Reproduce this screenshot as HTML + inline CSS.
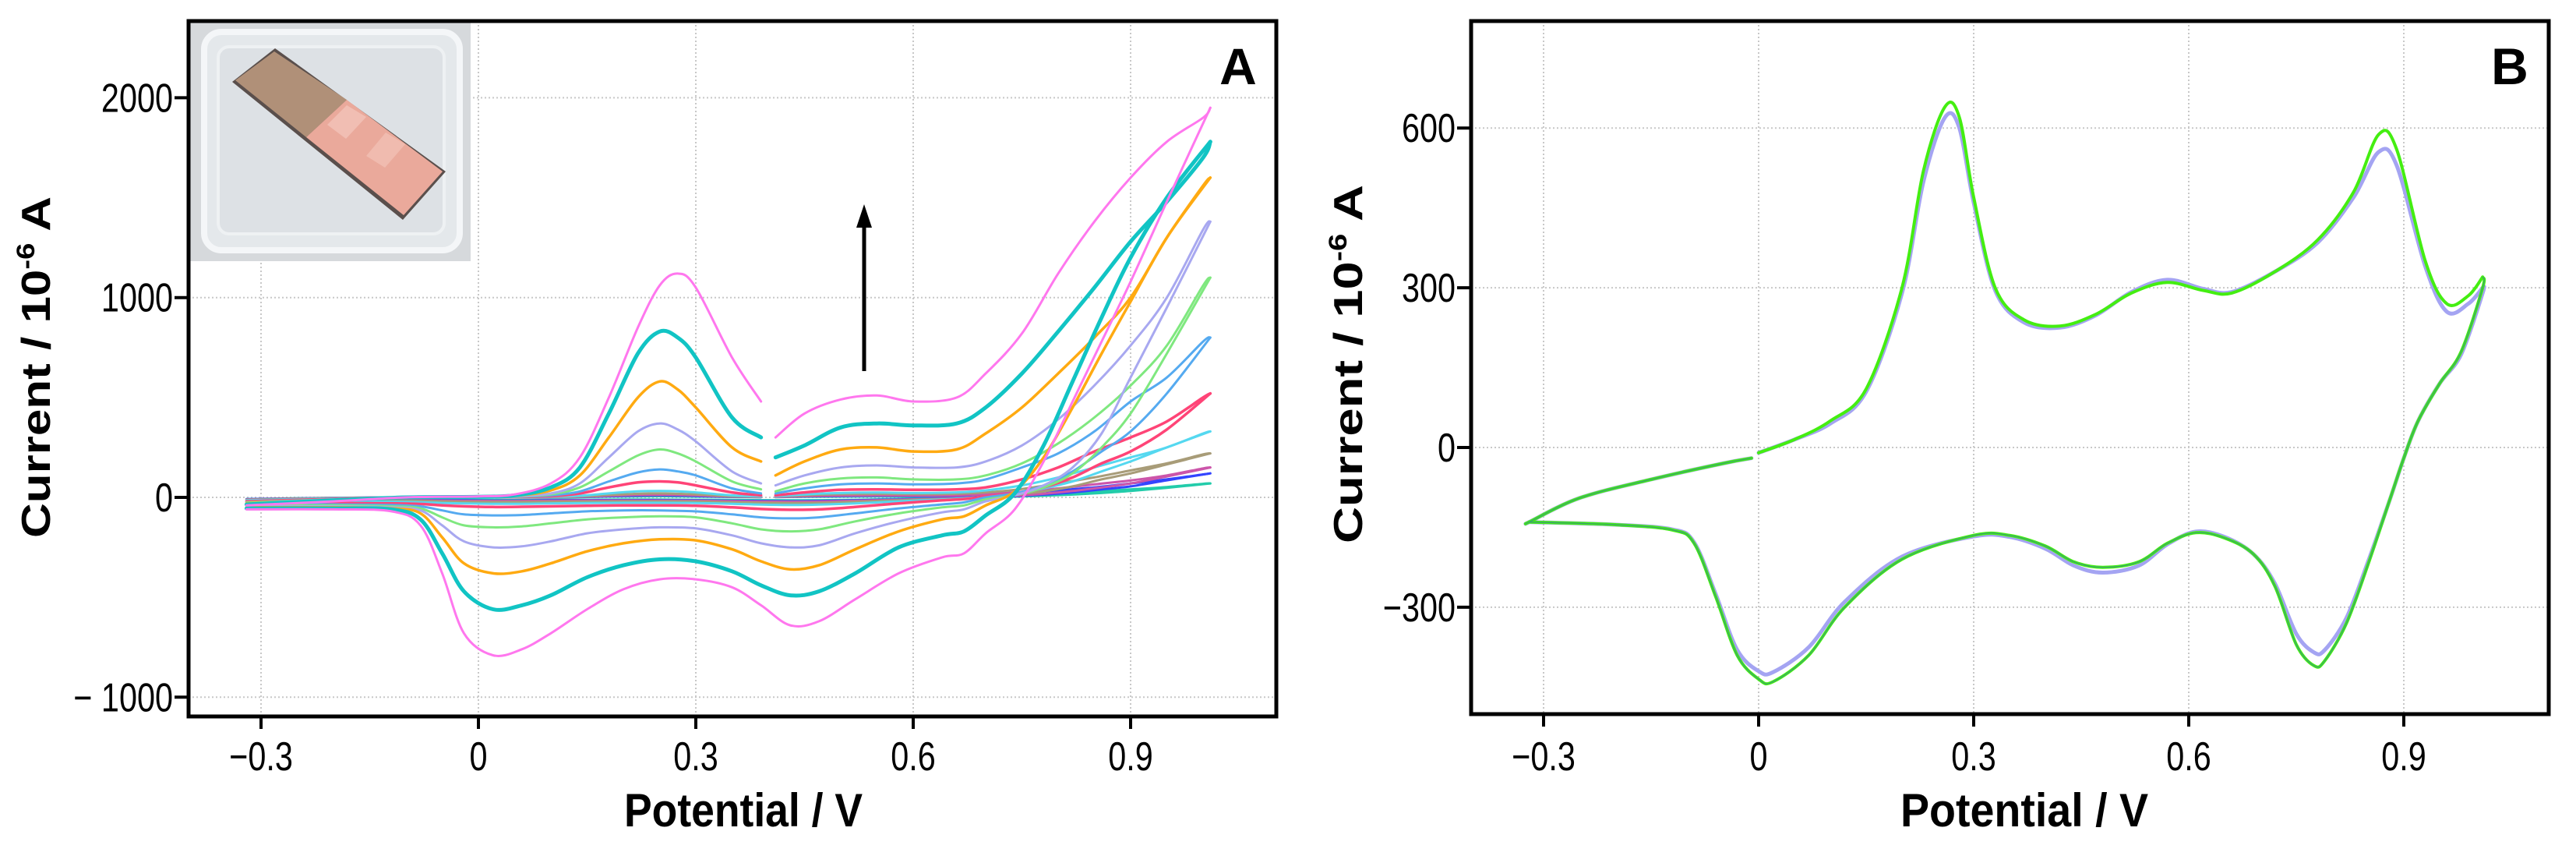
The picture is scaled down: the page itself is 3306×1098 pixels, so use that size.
<!DOCTYPE html>
<html><head><meta charset="utf-8"><style>
html,body{margin:0;padding:0;background:#fff;}
svg{display:block;}
text{font-family:"Liberation Sans",Arial,sans-serif;}
</style></head><body>
<svg id="fig" width="3306" height="1098" viewBox="0 0 3306 1098" xmlns="http://www.w3.org/2000/svg">
<rect x="0" y="0" width="3306" height="1098" fill="#fff"/>
<g id="panelA"></g>
<g id="panelB"></g>
</svg>
<script>
// ---------- Panel A data ----------
const aTicksX = [-0.3, 0, 0.3, 0.6, 0.9];
const aTickLabelsX = ["\u22120.3", "0", "0.3", "0.6", "0.9"];
const aTicksY = [2000, 1000, 0, -1000];
const aTickLabelsY = ["2000", "1000", "0", "\u2212 1000"];
const aPotential = [0.39,0.35,0.3,0.275,0.25,0.22,0.18,0.14,0.1,0.05,0,-0.1,-0.2,-0.32,
 -0.32,-0.2,-0.12,-0.08,-0.05,-0.02,0.02,0.06,0.1,0.15,0.2,0.25,0.3,0.35,0.39,0.43,0.47,0.52,0.58,0.64,0.67,0.7,0.74,0.78,0.82,0.86,0.9,0.95,1.01,
 1.0,0.95,0.9,0.85,0.8,0.75,0.7,0.66,0.6,0.55,0.5,0.45,0.41];
const aPink = [480,700,1050,1120,1060,850,500,200,70,15,5,0,-20,-40,
 -60,-60,-70,-140,-380,-680,-790,-760,-680,-560,-460,-410,-410,-450,-540,-640,-620,-510,-380,-300,-280,-180,-60,180,480,780,1080,1480,1950,
 1900,1780,1600,1380,1120,820,620,500,480,510,490,420,300];
const aCyan = [300,400,700,800,830,720,420,150,50,10,3,0,-15,-35,
 -55,-55,-60,-110,-280,-470,-560,-540,-490,-400,-340,-310,-320,-370,-440,-490,-470,-380,-250,-190,-170,-90,20,260,580,900,1200,1500,1780,
 1700,1480,1280,1050,830,620,450,370,360,370,350,260,200];
const aOrange = [180,250,450,540,580,500,300,110,35,8,2,0,-15,-30,
 -50,-50,-55,-80,-200,-330,-380,-370,-330,-270,-230,-210,-215,-260,-320,-360,-340,-260,-170,-110,-95,-40,30,200,450,720,980,1300,1600,
 1560,1300,1000,800,620,450,320,240,230,250,240,180,110];
const aLavender = [70,130,280,340,370,330,200,70,20,5,1,0,-10,-30,
 -45,-45,-50,-65,-140,-220,-250,-245,-220,-180,-160,-150,-155,-190,-230,-250,-240,-180,-120,-75,-60,-20,10,60,150,320,600,950,1380,
 1340,1000,760,560,390,260,180,150,150,160,150,110,60];
const aGreen = [40,80,180,220,240,210,130,50,15,4,1,0,-10,-25,
 -40,-40,-45,-55,-100,-140,-150,-145,-130,-110,-100,-95,-100,-130,-160,-170,-160,-120,-80,-50,-40,-10,10,50,120,250,420,720,1100,
 1060,760,560,400,270,170,110,90,90,100,95,70,30];
const aLightBlue = [20,45,110,130,140,125,80,30,10,3,1,0,-10,-25,
 -35,-35,-38,-45,-65,-85,-90,-88,-80,-70,-65,-65,-70,-85,-100,-105,-100,-80,-55,-35,-25,0,20,60,130,230,330,520,800,
 780,600,480,330,220,150,90,70,65,70,65,45,20];
const aRed = [10,25,60,75,80,75,50,20,6,2,1,0,-8,-20,
 -28,-28,-30,-33,-40,-45,-48,-47,-45,-42,-40,-40,-42,-50,-58,-62,-60,-48,-30,-15,-8,5,20,50,100,170,230,340,520,
 500,380,300,230,150,90,50,40,38,40,38,25,10];
const aSky = [5,10,25,30,32,30,20,8,3,1,0,0,-5,-15,
 -20,-20,-22,-24,-28,-30,-32,-32,-30,-28,-27,-27,-28,-32,-36,-38,-36,-30,-20,-10,-5,5,20,45,80,130,180,250,330,
 320,250,200,150,100,60,35,25,22,24,22,15,5];
const aTan = [3,6,15,18,20,18,12,5,2,1,0,0,-4,-12,
 -16,-16,-17,-18,-20,-22,-23,-23,-22,-21,-20,-20,-21,-24,-27,-28,-27,-22,-15,-8,-4,3,15,30,55,90,120,165,220,
 215,170,135,100,70,42,25,18,16,17,16,11,4];
const aPurple = [2,4,10,12,13,12,8,3,1,0,0,0,-3,-10,
 -13,-13,-14,-15,-16,-17,-18,-18,-17,-16,-16,-16,-17,-19,-21,-22,-21,-17,-12,-6,-3,2,8,18,32,50,70,105,150,
 145,110,85,65,45,28,16,10,9,10,9,6,2];
const aBlue = [1,3,7,9,10,9,6,2,1,0,0,0,-3,-9,
 -12,-12,-12,-13,-14,-15,-16,-16,-15,-14,-14,-14,-15,-17,-18,-19,-18,-15,-10,-5,-2,2,6,14,25,40,55,85,120,
 115,90,70,50,35,22,12,8,7,8,7,5,2];
const aTeal = [1,2,4,5,6,5,4,1,0,0,0,0,-2,-8,
 -10,-10,-10,-11,-12,-12,-13,-13,-12,-12,-11,-11,-12,-13,-14,-15,-14,-12,-8,-4,-2,1,4,8,14,22,32,48,70,
 68,52,40,30,20,12,7,5,4,5,4,3,1];
const aSeries = [
 {name:"scan-1-teal", y:aTeal, c:"#22ccaa", w:3},
 {name:"scan-2-blue", y:aBlue, c:"#3344ff", w:3},
 {name:"scan-3-purple", y:aPurple, c:"#cc55aa", w:3},
 {name:"scan-4-tan", y:aTan, c:"#a89c78", w:3},
 {name:"scan-5-skyblue", y:aSky, c:"#55d8f0", w:3},
 {name:"scan-6-red", y:aRed, c:"#ff4477", w:3.5},
 {name:"scan-7-lightblue", y:aLightBlue, c:"#55aaf0", w:3},
 {name:"scan-8-green", y:aGreen, c:"#7fe87f", w:3},
 {name:"scan-9-lavender", y:aLavender, c:"#a8a8f0", w:3},
 {name:"scan-10-orange", y:aOrange, c:"#ffaa11", w:3.5},
 {name:"scan-11-cyan", y:aCyan, c:"#11c4c4", w:5},
 {name:"scan-12-pink", y:aPink, c:"#ff77ee", w:3}
];

// ---------- Panel B data ----------
const bTicksX = [-0.3, 0, 0.3, 0.6, 0.9];
const bTickLabelsX = ["\u22120.3", "0", "0.3", "0.6", "0.9"];
const bTicksY = [600, 300, 0, -300];
const bTickLabelsY = ["600", "300", "0", "\u2212300"];
const bPotential = [0,0.05,0.1,0.15,0.2,0.23,0.26,0.28,0.3,0.33,0.37,0.42,0.47,0.52,0.57,0.62,0.66,0.72,0.78,0.83,0.865,0.89,0.93,0.96,0.99,1.01,
 1.01,0.98,0.95,0.92,0.9,0.88,0.85,0.82,0.79,0.775,0.75,0.72,0.69,0.65,0.61,0.57,0.53,0.48,0.44,0.4,0.35,0.3,0.2,0.12,0.07,0.02,0,-0.03,-0.06,-0.09,-0.12,-0.2,-0.32,
 -0.32,-0.25,-0.15,-0.05,-0.01];
const bGreen = [-10,15,50,110,300,520,640,620,470,300,240,228,250,290,310,295,290,330,390,480,588,560,350,270,285,320,
 300,180,120,50,-20,-100,-220,-330,-400,-410,-370,-260,-200,-170,-160,-180,-215,-225,-215,-185,-165,-165,-210,-300,-390,-440,-435,-390,-280,-180,-155,-145,-140,
 -140,-95,-60,-30,-20];
const bPurple = [-10,15,45,105,290,500,620,600,460,295,235,225,248,292,315,298,292,330,385,470,555,530,340,255,270,300,
 290,175,120,50,-20,-100,-215,-320,-380,-385,-350,-255,-200,-168,-158,-182,-222,-235,-222,-190,-168,-167,-205,-290,-375,-422,-420,-380,-275,-178,-154,-145,-140,
 -140,-95,-60,-30,-20];

const NS = "http://www.w3.org/2000/svg";
function mk(parent, tag, attrs){
  const e = document.createElementNS(NS, tag);
  for (const k in attrs) e.setAttribute(k, attrs[k]);
  parent.appendChild(e);
  return e;
}

function tickText(g, x, y, anchor, str){
  const tx = mk(g,'text',{x:0,y:0,'text-anchor':anchor,'font-size':46,fill:'#000',transform:'translate('+x+','+y+') scale(0.9,1.12)'});
  tx.textContent = str;
  return tx;
}

function drawAxes(g, cfg){
  const {left,right,top,bottom,sx,sy,ticksX,labelsX,ticksY,labelsY} = cfg;
  ticksX.forEach(v=>{
    const l = mk(g,'line',{x1:sx(v),x2:sx(v),y1:top,y2:bottom,stroke:'#c8c8c8','stroke-width':2,'stroke-dasharray':'2 3'});
    
    
  });
  ticksY.forEach(v=>{
    const l = mk(g,'line',{x1:left,x2:right,y1:sy(v),y2:sy(v),stroke:'#c8c8c8','stroke-width':2,'stroke-dasharray':'2 3'});
    
    
  });
  ticksX.forEach((v,i)=>{
    const t = mk(g,'line',{x1:sx(v),x2:sx(v),y1:bottom,y2:bottom+16,stroke:'#000','stroke-width':4});
    
    
    const tx = tickText(g, sx(v), 988, 'middle', labelsX[i]);
    
    
  });
  ticksY.forEach((v,i)=>{
    const t = mk(g,'line',{x1:left-18,x2:left,y1:sy(v),y2:sy(v),stroke:'#000','stroke-width':4});
    
    
    const tx = tickText(g, left-20, sy(v)+18, 'end', labelsY[i]);
    
    
  });
}

// smooth path through points (Catmull-Rom)
function drawSeries(g, xs, ys, sx, sy, color, w, name, from, to){
  const P = [];
  for (let i=from;i<to;i++) P.push([sx(xs[i]), sy(ys[i])]);
  let d = 'M' + P[0][0].toFixed(1) + ',' + P[0][1].toFixed(1);
  for (let i=0;i<P.length-1;i++){
    const p0 = P[Math.max(0,i-1)], p1 = P[i], p2 = P[i+1], p3 = P[Math.min(P.length-1,i+2)];
    const c1x = p1[0] + (p2[0]-p0[0])/6, c1y = p1[1] + (p2[1]-p0[1])/6;
    const c2x = p2[0] - (p3[0]-p1[0])/6, c2y = p2[1] - (p3[1]-p1[1])/6;
    d += ' C' + c1x.toFixed(1)+','+c1y.toFixed(1)+' '+c2x.toFixed(1)+','+c2y.toFixed(1)+' '+p2[0].toFixed(1)+','+p2[1].toFixed(1);
  }
  const p = mk(g,'path',{d:d,fill:'none',stroke:color,'stroke-width':w,'stroke-linejoin':'round','stroke-linecap':'round'});
  
  
}

function frame(g,l,t,r,b){
  const f = mk(g,'rect',{x:l,y:t,width:r-l,height:b-t,fill:'none',stroke:'#000','stroke-width':5});
  
  
}

// ---------- Panel A ----------
(function(){
  const g = document.getElementById('panelA');
  const L=242,R=1638,T=27,B=919;
  const sx = v => 614 + v*930;
  const sy = v => 638 - v*0.2563;
  drawAxes(g,{left:L,right:R,top:T,bottom:B,sx,sy,ticksX:aTicksX,labelsX:aTickLabelsX,ticksY:aTicksY,labelsY:aTickLabelsY});
  const ins = mk(g,'g',{});
  
  
  mk(ins,'rect',{x:243,y:28,width:361,height:307,fill:'#d6d9dc'});
  mk(ins,'rect',{x:262,y:41,width:328,height:280,rx:22,fill:'#e4e8eb',stroke:'#f4f6f8','stroke-width':8});
  mk(ins,'rect',{x:280,y:60,width:290,height:240,rx:14,fill:'#dde1e5',stroke:'#eef1f3','stroke-width':4});
  mk(ins,'polygon',{points:'298,105 353,62 572,220 517,282',fill:'#5a4f4c'});
  mk(ins,'polygon',{points:'302,103 352,66 445,128 393,176',fill:'#b09078'});
  mk(ins,'polygon',{points:'393,176 445,128 568,220 518,276',fill:'#eaa99b'});
  mk(ins,'polygon',{points:'420,160 445,135 470,150 444,178',fill:'#f4c8bd',opacity:0.7});
  mk(ins,'polygon',{points:'470,200 495,170 520,185 494,215',fill:'#f4c8bd',opacity:0.6});
  aSeries.forEach(s=>{
    drawSeries(g,aPotential,s.y,sx,sy,s.c,s.w,s.name+'-cathodic',0,14);
    drawSeries(g,aPotential,s.y,sx,sy,s.c,s.w,s.name+'-sweep',14,43);
    drawSeries(g,aPotential,s.y,sx,sy,s.c,s.w,s.name+'-return',42,56);
  });
  const ar = mk(g,'g',{});
  
  
  mk(ar,'line',{x1:1109,y1:476,x2:1109,y2:285,stroke:'#000','stroke-width':5});
  mk(ar,'polygon',{points:'1109,262 1099,292 1119,292',fill:'#000'});
  frame(g,L,T,R,B);
  const lab = mk(g,'text',{x:1589,y:108,'text-anchor':'middle','font-size':66,'font-weight':'bold',fill:'#000'});
  lab.textContent='A';
  
  
  const xt = mk(g,'text',{x:954,y:1060,'text-anchor':'middle','font-size':60,'font-weight':'bold',textLength:306,lengthAdjust:'spacingAndGlyphs',fill:'#000'});
  xt.textContent='Potential / V';
  
  
  const yt = mk(g,'text',{x:0,y:0,'text-anchor':'middle','font-size':52,'font-weight':'bold',textLength:438,lengthAdjust:'spacingAndGlyphs',fill:'#000',transform:'translate(64,471) rotate(-90)'});
  yt.innerHTML='Current / 10<tspan font-size="32" dy="-20">-6</tspan><tspan dy="20"> A</tspan>';
  
  
})();

// ---------- Panel B ----------
(function(){
  const g = document.getElementById('panelB');
  const L=1888,R=3271,T=27,B=916;
  const sx = v => 2257 + v*920;
  const sy = v => 574 - v*0.683;
  drawAxes(g,{left:L,right:R,top:T,bottom:B,sx,sy,ticksX:bTicksX,labelsX:bTickLabelsX,ticksY:bTicksY,labelsY:bTickLabelsY});
  const n = bPotential.length;
  drawSeries(g,bPotential,bPurple,sx,sy,'#a4a4f2',5,'scan-purple',0,26);
  drawSeries(g,bPotential,bPurple,sx,sy,'#a4a4f2',5,'scan-purple-reverse',25,59);
  drawSeries(g,bPotential,bPurple,sx,sy,'#a4a4f2',5,'scan-purple-tail',58,n);
  drawSeries(g,bPotential,bGreen,sx,sy,'#44ee11',4,'scan-green',0,26);
  drawSeries(g,bPotential,bGreen,sx,sy,'#44ee11',4,'scan-green-reverse',25,59);
  drawSeries(g,bPotential,bGreen,sx,sy,'#44ee11',4,'scan-green-tail',58,n);
  drawSeries(g,bPotential,bGreen,sx,sy,'#3a9a7a',1.2,'scan-overlap',25,59);
  drawSeries(g,bPotential,bGreen,sx,sy,'#3a9a7a',1.2,'scan-overlap-tail',58,n);
  frame(g,L,T,R,B);
  const lab = mk(g,'text',{x:3221,y:108,'text-anchor':'middle','font-size':66,'font-weight':'bold',fill:'#000'});
  lab.textContent='B';
  
  
  const xt = mk(g,'text',{x:2598,y:1060,'text-anchor':'middle','font-size':60,'font-weight':'bold',textLength:318,lengthAdjust:'spacingAndGlyphs',fill:'#000'});
  xt.textContent='Potential / V';
  
  
  const yt = mk(g,'text',{x:0,y:0,'text-anchor':'middle','font-size':52,'font-weight':'bold',textLength:460,lengthAdjust:'spacingAndGlyphs',fill:'#000',transform:'translate(1748,467) rotate(-90)'});
  yt.innerHTML='Current / 10<tspan font-size="32" dy="-20">-6</tspan><tspan dy="20"> A</tspan>';
  
  
})();
</script>
</body></html>
